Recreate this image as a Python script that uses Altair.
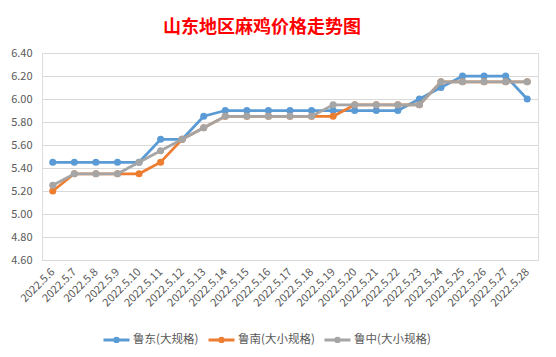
import altair as alt
import pandas as pd

dates = ["2022.5.6","2022.5.7","2022.5.8","2022.5.9","2022.5.10","2022.5.11","2022.5.12",
         "2022.5.13","2022.5.14","2022.5.15","2022.5.16","2022.5.17","2022.5.18","2022.5.19",
         "2022.5.20","2022.5.21","2022.5.22","2022.5.23","2022.5.24","2022.5.25","2022.5.26",
         "2022.5.27","2022.5.28"]
series_names = ["鲁东(大规格)", "鲁南(大小规格)", "鲁中(大小规格)"]
ludong = [5.45,5.45,5.45,5.45,5.45,5.65,5.65,5.85,5.90,5.90,5.90,5.90,5.90,5.90,
          5.90,5.90,5.90,6.00,6.10,6.20,6.20,6.20,6.00]
lunan = [5.20,5.35,5.35,5.35,5.35,5.45,5.65,5.75,5.85,5.85,5.85,5.85,5.85,5.85,
         5.95,5.95,5.95,5.95,6.15,6.15,6.15,6.15,6.15]
luzhong = [5.25,5.35,5.35,5.35,5.45,5.55,5.65,5.75,5.85,5.85,5.85,5.85,5.85,5.95,
           5.95,5.95,5.95,5.95,6.15,6.15,6.15,6.15,6.15]
colors = ["#5B9BD5", "#ED7D31", "#A5A5A5"]
y_ticks = [4.6, 4.8, 5.0, 5.2, 5.4, 5.6, 5.8, 6.0, 6.2, 6.4]

rows = []
for name, vals in zip(series_names, [ludong, lunan, luzhong]):
    for d, v in zip(dates, vals):
        rows.append({"date": d, "series": name, "price": v})
df = pd.DataFrame(rows)

FONT = "Noto Sans CJK SC"

x = alt.X("date:N", sort=dates, title=None,
          scale=alt.Scale(type="point", padding=0.5),
          axis=alt.Axis(labelAngle=-45, labelAlign="right", labelBaseline="middle",
                        labelPadding=10, ticks=False, domainColor="#D9D9D9",
                        labelColor="#595959", labelFontSize=11, labelFont=FONT,
                        grid=False))
y = alt.Y("price:Q", title=None,
          scale=alt.Scale(domain=[4.6, 6.4], nice=False, zero=False),
          axis=alt.Axis(values=y_ticks, format=".2f", ticks=False, domain=False,
                        gridColor="#D9D9D9", labelColor="#595959", labelFontSize=11,
                        labelFont=FONT, labelPadding=10))
color = alt.Color("series:N", sort=series_names, title=None,
                  scale=alt.Scale(domain=series_names, range=colors),
                  legend=alt.Legend(orient="none", direction="horizontal",
                                    legendX=60, legendY=272,
                                    symbolType="M-1,0H1M0.13,0A0.13,0.13 0 1,1 -0.13,0A0.13,0.13 0 1,1 0.13,0",
                                    symbolSize=676, symbolStrokeWidth=3,
                                    labelFontSize=11.5, labelFont=FONT, labelColor="#595959",
                                    labelOffset=2, columnPadding=3))

layers = []
for name in series_names:
    layers.append(
        alt.Chart(df).transform_filter(alt.datum.series == name)
        .mark_line(strokeWidth=2.75, point=alt.OverlayMarkDef(size=50, filled=True, opacity=1))
        .encode(x=x, y=y, color=color)
    )

chart = alt.layer(*layers).properties(
    width=496, height=207,
    title=alt.TitleParams("山东地区麻鸡价格走势图", color="#FF0000", fontSize=18,
                          font=FONT, fontWeight="bold", anchor="middle", dx=-28, offset=10),
    autosize=alt.AutoSizeParams(type="none"),
    padding={"left": 34, "top": 45, "right": 10, "bottom": 89},
).configure_view(stroke=None).configure(background="white")

chart.save("out.html", embed_options={"renderer": "svg", "actions": False})
